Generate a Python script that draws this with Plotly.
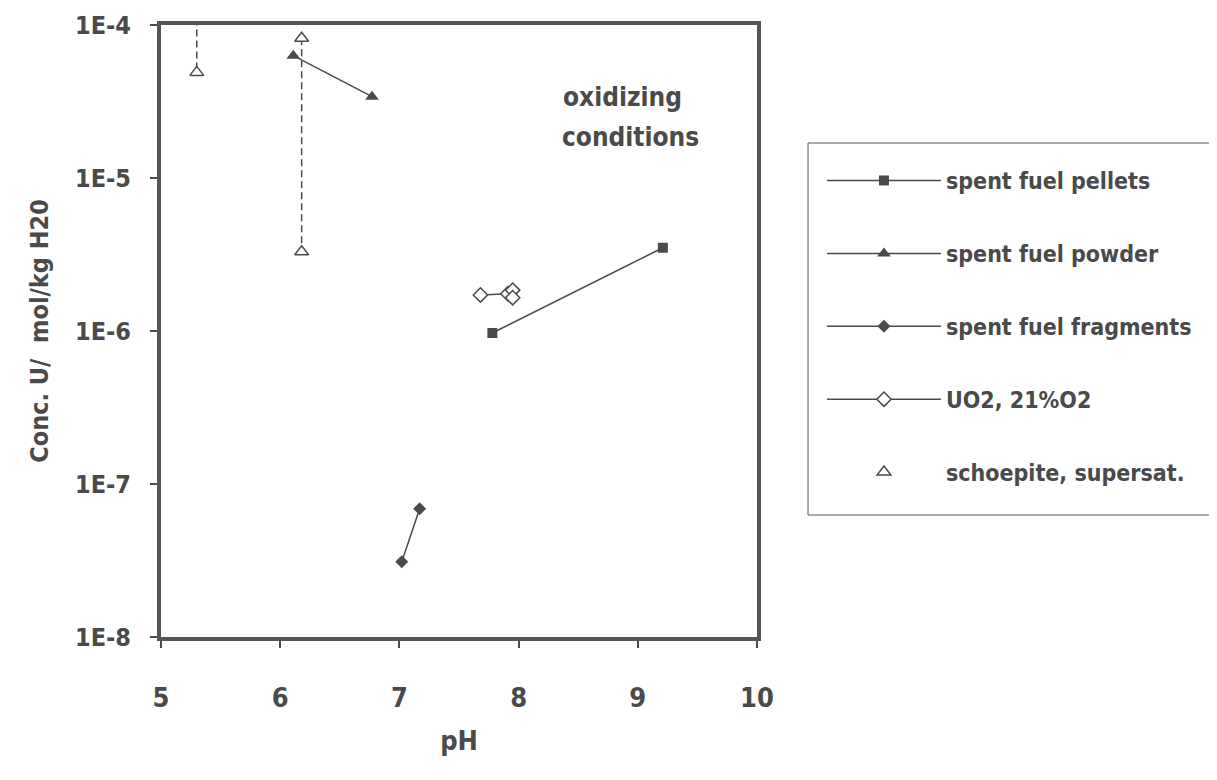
import plotly.graph_objects as go

# ---- data ----
pellets_ph = [7.78, 9.21]
pellets_u = [9.7e-7, 3.5e-6]

powder_ph = [6.11, 6.77]
powder_u = [6.3e-5, 3.4e-5]

fragments_ph = [7.02, 7.17]
fragments_u = [3.1e-8, 6.9e-8]

uo2_ph = [7.68, 7.91, 7.95, 7.95]
uo2_u = [1.72e-6, 1.75e-6, 1.85e-6, 1.65e-6]

schoepite_ph = [5.30, 6.18, 6.18]
schoepite_u = [4.9e-5, 8.2e-5, 3.3e-6]

# dashed connectors for schoepite (upper end above plot top, clipped)
schoep_a_ph = [5.30, 5.30]
schoep_a_u = [1.3e-4, 4.9e-5]
schoep_b_ph = [6.18, 6.18]
schoep_b_u = [8.2e-5, 3.3e-6]

y_tickvals = [1e-8, 1e-7, 1e-6, 1e-5, 1e-4]
y_ticktext = ["1E-8", "1E-7", "1E-6", "1E-5", "1E-4"]
x_tickvals = [5, 6, 7, 8, 9, 10]

FONT = "Liberation Sans Narrow, DejaVu Sans Condensed, Arial Narrow, sans-serif"
INK = "#4a4a4a"

fig = go.Figure()

fig.add_trace(go.Scatter(x=schoep_a_ph, y=schoep_a_u, mode="lines",
                         line=dict(color=INK, width=1.5, dash="7px,4px"),
                         showlegend=False, hoverinfo="skip"))
fig.add_trace(go.Scatter(x=schoep_b_ph, y=schoep_b_u, mode="lines",
                         line=dict(color=INK, width=1.5, dash="7px,4px"),
                         showlegend=False, hoverinfo="skip"))

fig.add_trace(go.Scatter(x=pellets_ph, y=pellets_u, mode="lines+markers",
                         name="spent fuel pellets", legendgroup="a",
                         line=dict(color=INK, width=1.5),
                         marker=dict(symbol="square", size=10, color=INK)))
fig.add_trace(go.Scatter(x=powder_ph, y=powder_u, mode="lines+markers",
                         name="spent fuel powder", legendgroup="b",
                         line=dict(color=INK, width=1.5),
                         marker=dict(symbol="triangle-up", size=12, color=INK)))
fig.add_trace(go.Scatter(x=fragments_ph, y=fragments_u, mode="lines+markers",
                         name="spent fuel fragments", legendgroup="c",
                         line=dict(color=INK, width=1.5),
                         marker=dict(symbol="diamond", size=10, color=INK)))
fig.add_trace(go.Scatter(x=uo2_ph, y=uo2_u, mode="lines+markers",
                         name="UO2, 21%O2", legendgroup="d",
                         line=dict(color=INK, width=1.5),
                         marker=dict(symbol="diamond", size=11, color="white",
                                     line=dict(color=INK, width=1.5))))
fig.add_trace(go.Scatter(x=schoepite_ph, y=schoepite_u, mode="markers",
                         name="schoepite, supersat.", legendgroup="e",
                         marker=dict(symbol="triangle-up", size=12, color="white",
                                     line=dict(color=INK, width=1.5))))

fig.add_annotation(x=8.87, y=0.8824, xref="x", yref="paper", yanchor="middle",
                   text="oxidizing", showarrow=False,
                   font=dict(family=FONT, size=26, color=INK, weight="bold"))
fig.add_annotation(x=8.94, y=0.817, xref="x", yref="paper", yanchor="middle",
                   text="conditions", showarrow=False,
                   font=dict(family=FONT, size=26, color=INK, weight="bold"))

# legend frame
fig.add_shape(type="rect", xref="paper", yref="paper",
              x0=1.0856, x1=1.768, y0=0.1993, y1=0.8072,
              line=dict(color="#555555", width=1), fillcolor="rgba(0,0,0,0)")

fig.update_xaxes(range=[5, 10], tickvals=x_tickvals, ticks="outside", ticklen=7,
                 tickwidth=1.5, tickcolor=INK, showline=True, linewidth=4,
                 linecolor="#555555", mirror=True, showgrid=False, zeroline=False,
                 automargin=False, ticklabelstandoff=27, ticklabeloverflow="allow",
                 tickfont=dict(family=FONT, size=27, color=INK, weight="bold"),
                 title=dict(text="pH", standoff=20,
                            font=dict(family=FONT, size=27, color=INK, weight="bold")))
fig.update_yaxes(type="log", range=[-8, -4], tickvals=y_tickvals, ticktext=y_ticktext,
                 ticks="outside", ticklen=7, tickwidth=1.5, tickcolor=INK,
                 showline=True, linewidth=4, linecolor="#555555", mirror=True,
                 showgrid=False, zeroline=False, automargin=False, ticklabelstandoff=14,
                 ticklabeloverflow="allow",
                 tickfont=dict(family=FONT, size=25, color=INK, weight="bold"),
                 title=dict(text="Conc. U/  mol/kg H20", standoff=20,
                            font=dict(family=FONT, size=25, color=INK, weight="bold")))

fig.update_layout(
    width=1217, height=780,
    margin=dict(l=153, r=468, t=17, b=151),
    plot_bgcolor="white", paper_bgcolor="white",
    legend=dict(x=1.109, y=0.7810, xanchor="left", yanchor="top",
                borderwidth=0, bgcolor="rgba(0,0,0,0)",
                traceorder="grouped", tracegroupgap=40, itemwidth=114,
                font=dict(family=FONT, size=23, color=INK, weight="bold")),
)

fig.write_html("out.html")
